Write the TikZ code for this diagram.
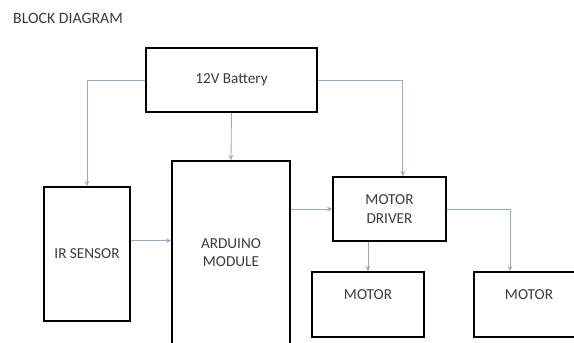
\documentclass[tikz,border=0pt]{standalone}
\usepackage{fontspec}
\setmainfont{Carlito}
\usepackage{xcolor}
\usetikzlibrary{arrows.meta,positioning,calc}

\definecolor{wire}{RGB}{150,172,192}
\definecolor{ink}{RGB}{60,60,60}

\begin{document}
\begin{tikzpicture}[
  x=0.3mm,y=-0.3mm,
  block/.style={rectangle,draw=black,line width=1.3pt,fill=white,font=\fontsize{13}{15.5}\selectfont,text=ink,align=center},
  motorbox/.style={block,minimum width=33.6mm,minimum height=19.5mm,text height=8pt,text depth=16pt},
  arr/.style={draw=wire,line width=0.7pt,-{Stealth[length=1.6mm,width=1.4mm]}}
]
\useasboundingbox (0,0) rectangle (574,343);
\clip (0,0) rectangle (574,343);
\fill[white] (0,0) rectangle (574,343);
\node[anchor=west,font=\fontsize{13.5}{15}\selectfont,text=ink,inner sep=0pt] (title) at (13,18) {BLOCK DIAGRAM};
% blocks
\node[block,minimum width=51.3mm,minimum height=19.2mm] (bat) at (231.5,80) {12V Battery};
\node[block,minimum width=35.4mm,minimum height=55.2mm] (ard) at (231,253) {ARDUINO\\MODULE};
\node[block,minimum width=25.8mm,minimum height=40.2mm] (ir) at (87,254) {IR SENSOR};
\node[block,minimum width=33.9mm,minimum height=19.2mm] (drv) at (389.5,209) {MOTOR\\DRIVER};
\node[motorbox] (mot1) at (368,304.5) {MOTOR};
\node[motorbox,minimum width=33mm] (mot2) at (529,304.5) {MOTOR};
% connectors
\coordinate (irout) at ([yshift=4mm]ir.east);
\draw[arr] (bat.west) -| (ir.north);
\draw[arr] (bat.south) -- (ard.north);
\draw[arr] (bat.east) -| ([xshift=4mm]drv.north);
\draw[arr] (ard.east |- drv.west) -- (drv.west);
\draw[arr] (irout) -- (ard.west |- irout);
\draw[arr] (drv.south -| mot1.north) -- (mot1.north);
\draw[arr] (drv.east) -| ([xshift=-5.7mm]mot2.north);
\end{tikzpicture}
\end{document}
